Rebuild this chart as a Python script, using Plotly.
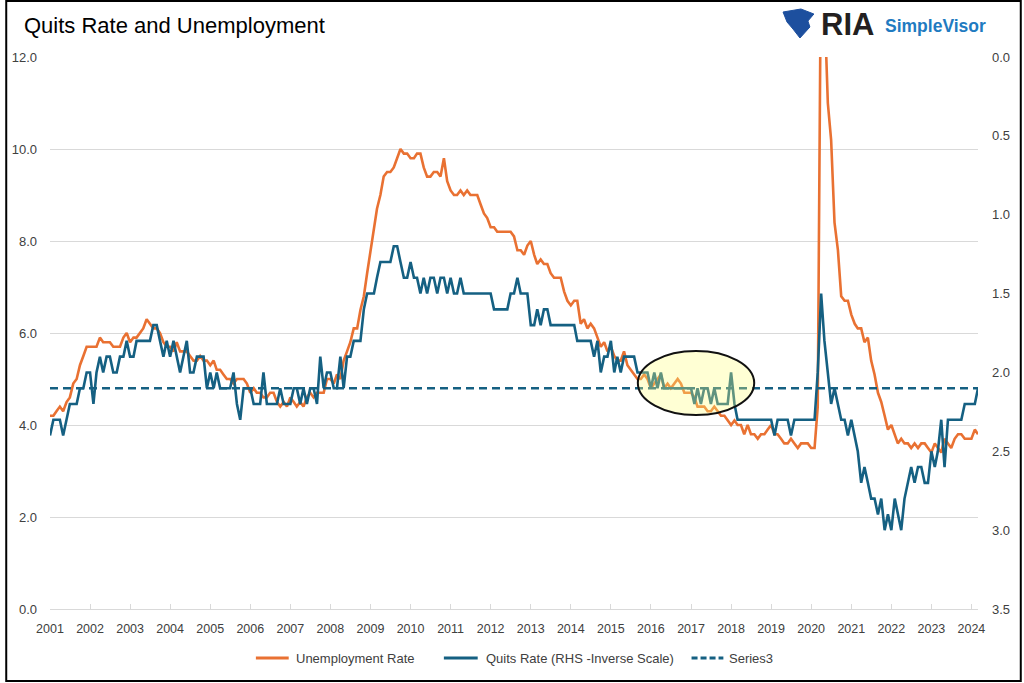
import pandas as pd
import plotly.graph_objects as go

# ---------------- data ----------------
dates = pd.date_range("2001-01-01", "2024-03-01", freq="MS")

unemployment = (
    [4.2, 4.2, 4.3, 4.4, 4.3, 4.5, 4.6, 4.9, 5.0, 5.3, 5.5, 5.7] +   # 2001
    [5.7, 5.7, 5.7, 5.9, 5.8, 5.8, 5.8, 5.7, 5.7, 5.7, 5.9, 6.0] +   # 2002
    [5.8, 5.9, 5.9, 6.0, 6.1, 6.3, 6.2, 6.1, 6.1, 6.0, 5.8, 5.7] +   # 2003
    [5.7, 5.6, 5.8, 5.6, 5.6, 5.6, 5.5, 5.4, 5.4, 5.5, 5.4, 5.4] +   # 2004
    [5.3, 5.4, 5.2, 5.2, 5.1, 5.0, 5.0, 4.9, 5.0, 5.0, 5.0, 4.9] +   # 2005
    [4.7, 4.8, 4.7, 4.7, 4.6, 4.6, 4.7, 4.7, 4.5, 4.4, 4.5, 4.4] +   # 2006
    [4.6, 4.5, 4.4, 4.5, 4.4, 4.6, 4.7, 4.6, 4.7, 4.7, 4.7, 5.0] +   # 2007
    [5.0, 4.9, 5.1, 5.0, 5.4, 5.6, 5.8, 6.1, 6.1, 6.5, 6.8, 7.3] +   # 2008
    [7.8, 8.3, 8.7, 9.0, 9.4, 9.5, 9.5, 9.6, 9.8, 10.0, 9.9, 9.9] +  # 2009
    [9.8, 9.8, 9.9, 9.9, 9.6, 9.4, 9.4, 9.5, 9.5, 9.4, 9.8, 9.3] +   # 2010
    [9.1, 9.0, 9.0, 9.1, 9.0, 9.1, 9.0, 9.0, 9.0, 8.8, 8.6, 8.5] +   # 2011
    [8.3, 8.3, 8.2, 8.2, 8.2, 8.2, 8.2, 8.1, 7.8, 7.8, 7.7, 7.9] +   # 2012
    [8.0, 7.7, 7.5, 7.6, 7.5, 7.5, 7.3, 7.2, 7.2, 7.2, 6.9, 6.7] +   # 2013
    [6.6, 6.7, 6.7, 6.2, 6.3, 6.1, 6.2, 6.1, 5.9, 5.7, 5.8, 5.6] +   # 2014
    [5.7, 5.5, 5.4, 5.4, 5.6, 5.3, 5.2, 5.1, 5.0, 5.0, 5.1, 5.0] +   # 2015
    [4.8, 4.9, 5.0, 5.1, 4.8, 4.9, 4.8, 4.9, 5.0, 4.9, 4.7, 4.7] +   # 2016
    [4.7, 4.6, 4.4, 4.4, 4.4, 4.3, 4.3, 4.4, 4.3, 4.2, 4.2, 4.1] +   # 2017
    [4.0, 4.1, 4.0, 4.0, 3.8, 4.0, 3.8, 3.8, 3.7, 3.8, 3.8, 3.9] +   # 2018
    [4.0, 3.8, 3.8, 3.7, 3.6, 3.6, 3.7, 3.6, 3.5, 3.6, 3.6, 3.6] +   # 2019
    [3.5, 3.5, 4.4, 14.8, 13.2, 11.0, 10.2, 8.4, 7.8, 6.8, 6.7, 6.7] +  # 2020
    [6.4, 6.2, 6.1, 6.1, 5.8, 5.9, 5.4, 5.1, 4.7, 4.5, 4.2, 3.9] +   # 2021
    [4.0, 3.8, 3.6, 3.7, 3.6, 3.6, 3.5, 3.6, 3.5, 3.6, 3.6, 3.5] +   # 2022
    [3.4, 3.6, 3.5, 3.4, 3.7, 3.6, 3.5, 3.7, 3.8, 3.8, 3.7, 3.7] +   # 2023
    [3.7, 3.9, 3.8]                                                   # 2024
)

quits_rate = (
    [2.4, 2.3, 2.3, 2.3, 2.4, 2.3, 2.2, 2.2, 2.2, 2.1, 2.1, 2.0] +   # 2001
    [2.0, 2.2, 2.0, 1.9, 2.0, 1.9, 1.9, 2.0, 2.0, 1.9, 1.9, 1.8] +   # 2002
    [1.9, 1.9, 1.8, 1.8, 1.8, 1.8, 1.8, 1.7, 1.7, 1.8, 1.9, 1.8] +   # 2003
    [1.9, 1.8, 1.9, 2.0, 1.9, 1.8, 2.0, 2.0, 1.9, 1.9, 1.9, 2.1] +   # 2004
    [2.0, 2.1, 2.0, 2.1, 2.1, 2.1, 2.1, 2.0, 2.2, 2.3, 2.1, 2.1] +   # 2005
    [2.1, 2.2, 2.2, 2.2, 2.0, 2.2, 2.2, 2.2, 2.2, 2.1, 2.2, 2.2] +   # 2006
    [2.2, 2.1, 2.1, 2.2, 2.1, 2.2, 2.1, 2.1, 2.2, 1.9, 2.1, 2.0] +   # 2007
    [2.0, 2.1, 2.1, 1.9, 2.1, 1.9, 1.9, 1.8, 1.8, 1.8, 1.6, 1.5] +   # 2008
    [1.5, 1.5, 1.4, 1.3, 1.3, 1.3, 1.3, 1.2, 1.2, 1.3, 1.4, 1.4] +   # 2009
    [1.3, 1.4, 1.4, 1.5, 1.4, 1.5, 1.4, 1.4, 1.5, 1.4, 1.4, 1.5] +   # 2010
    [1.4, 1.5, 1.5, 1.4, 1.5, 1.5, 1.5, 1.5, 1.5, 1.5, 1.5, 1.5] +   # 2011
    [1.5, 1.6, 1.6, 1.6, 1.6, 1.6, 1.5, 1.5, 1.4, 1.5, 1.5, 1.5] +   # 2012
    [1.7, 1.7, 1.6, 1.7, 1.6, 1.6, 1.7, 1.7, 1.7, 1.7, 1.7, 1.7] +   # 2013
    [1.7, 1.7, 1.8, 1.8, 1.8, 1.8, 1.8, 1.9, 1.8, 2.0, 1.9, 1.9] +   # 2014
    [1.8, 2.0, 1.9, 2.0, 1.9, 1.9, 1.9, 1.9, 2.0, 2.0, 2.0, 2.0] +   # 2015
    [2.1, 2.0, 2.1, 2.0, 2.1, 2.1, 2.1, 2.1, 2.1, 2.1, 2.1, 2.1] +   # 2016
    [2.1, 2.2, 2.1, 2.2, 2.1, 2.1, 2.2, 2.1, 2.2, 2.2, 2.2, 2.2] +   # 2017
    [2.0, 2.2, 2.3, 2.3, 2.3, 2.3, 2.3, 2.3, 2.3, 2.3, 2.3, 2.3] +   # 2018
    [2.3, 2.4, 2.3, 2.3, 2.3, 2.3, 2.4, 2.3, 2.3, 2.3, 2.3, 2.3] +   # 2019
    [2.3, 2.3, 2.0, 1.5, 1.8, 2.0, 2.2, 2.1, 2.2, 2.3, 2.3, 2.4] +   # 2020
    [2.3, 2.4, 2.5, 2.7, 2.6, 2.7, 2.8, 2.8, 2.9, 2.8, 3.0, 2.9] +   # 2021
    [3.0, 2.8, 2.9, 3.0, 2.8, 2.7, 2.6, 2.7, 2.6, 2.6, 2.7, 2.7] +   # 2022
    [2.5, 2.6, 2.5, 2.3, 2.6, 2.3, 2.3, 2.3, 2.3, 2.3, 2.2, 2.2] +   # 2023
    [2.2, 2.2, 2.1]                                                   # 2024
)

series3 = [2.1] * len(dates)

series_names = ["Unemployment Rate", "Quits Rate (RHS -Inverse Scale)", "Series3"]

years = list(range(2001, 2025))
year_ticks = [f"{y}-01-01" for y in years]
year_labels = [str(y) for y in years]
left_ticks = [0, 2, 4, 6, 8, 10, 12]
right_ticks = [0.0, 0.5, 1.0, 1.5, 2.0, 2.5, 3.0, 3.5]

# ---------------- layout helpers ----------------
W, H = 1024, 683
PL, PR, PT, PB = 45, 978, 57, 609


def px(x):
    return (x - PL) / (PR - PL)


def py(y):
    return (PB - y) / (PB - PT)


ORANGE = "#E97132"
BLUE = "#156082"
GRID = "#D9D9D9"
TXT = "#404040"
FONT = "Liberation Sans, Arial, sans-serif"

fig = go.Figure()
fig.add_trace(go.Scatter(x=dates, y=unemployment, name=series_names[0],
                         mode="lines", line=dict(color=ORANGE, width=2.6),
                         yaxis="y", hoverinfo="skip", showlegend=False))
fig.add_trace(go.Scatter(x=dates, y=quits_rate, name=series_names[1],
                         mode="lines", line=dict(color=BLUE, width=2.6),
                         yaxis="y2", hoverinfo="skip", showlegend=False))
fig.add_trace(go.Scatter(x=dates, y=series3, name=series_names[2],
                         mode="lines", line=dict(color=BLUE, width=2.4, dash="8px,5px"),
                         yaxis="y2", hoverinfo="skip", showlegend=False))

shapes = [
    # highlight ellipse
    dict(type="circle", xref="paper", yref="paper",
         x0=px(636), x1=px(753), y0=py(415), y1=py(351),
         fillcolor="rgba(255,255,120,0.32)", line=dict(color="#111111", width=2),
         layer="above"),
    # outer frame
    dict(type="rect", xref="paper", yref="paper",
         x0=px(1), x1=px(1021), y0=py(681), y1=py(1),
         line=dict(color="#000000", width=2), fillcolor="rgba(0,0,0,0)", layer="above"),
    # simple logo emblem
    dict(type="path", xref="paper", yref="paper",
         path="M {} {} L {} {} L {} {} L {} {} L {} {} L {} {} L {} {} L {} {} Z".format(
             px(782), py(12), px(800), py(9), px(813), py(14), px(807), py(21),
             px(809), py(27), px(799), py(38), px(792), py(29), px(786), py(22)),
         fillcolor="#1D4F9E", line=dict(color="#1D4F9E", width=1), layer="above"),
]

# manual legend (line samples + labels)
LEG_Y = 658
legend_items = [
    (252, 285, 290, ORANGE, "solid", series_names[0]),
    (441, 475, 481, BLUE, "solid", series_names[1]),
    (690, 722, 726, BLUE, "dash", series_names[2]),
]
annotations = []
for x0, x1, xt, col, dash, label in legend_items:
    shapes.append(dict(type="line", xref="paper", yref="paper",
                       x0=px(x0), x1=px(x1), y0=py(LEG_Y), y1=py(LEG_Y),
                       line=dict(color=col, width=2.8, dash=("6px,3px" if dash == "dash" else "solid"))))
    annotations.append(dict(text=label, xref="paper", yref="paper", x=px(xt), y=py(LEG_Y),
                            xanchor="left", yanchor="middle", showarrow=False,
                            font=dict(family=FONT, size=13, color=TXT)))

annotations += [
    dict(text="<b>RIA</b>", xref="paper", yref="paper", x=px(847), y=py(24),
         xanchor="center", yanchor="middle", showarrow=False,
         font=dict(family=FONT, size=31, color="#231F20")),
    dict(text="<b>SimpleVisor</b>", xref="paper", yref="paper", x=px(935), y=py(26),
         xanchor="center", yanchor="middle", showarrow=False,
         font=dict(family=FONT, size=17.5, color="#1F7BC1")),
]

fig.update_layout(
    width=W, height=H,
    margin=dict(l=PL, r=W - PR, t=PT, b=H - PB, pad=0),
    paper_bgcolor="white", plot_bgcolor="white",
    title=dict(text="Quits Rate and Unemployment", x=24 / W, xanchor="left",
               y=1 - 25 / H, yanchor="middle",
               font=dict(family=FONT, size=22, color="#000000")),
    font=dict(family=FONT, size=13, color=TXT),
    showlegend=False,
    xaxis=dict(type="date", range=[dates[0], dates[-1]],
               tickmode="array", tickvals=year_ticks, ticktext=year_labels,
               showgrid=False, zeroline=False, showline=True, linecolor=GRID, linewidth=1,
               ticks="inside", ticklen=5, tickcolor=GRID,
               tickfont=dict(family=FONT, size=12.5, color=TXT), ticklabelstandoff=8),
    yaxis=dict(range=[0, 12], tickmode="array", tickvals=left_ticks, tickformat=".1f",
               showgrid=True, gridcolor=GRID, gridwidth=1, zeroline=False,
               showline=False, ticks="", tickfont=dict(family=FONT, size=13, color=TXT),
               ticklabelstandoff=12),
    yaxis2=dict(range=[3.5, 0], overlaying="y", side="right", tickmode="array",
                tickvals=right_ticks, tickformat=".1f", showgrid=False, zeroline=False,
                showline=False, ticks="", tickfont=dict(family=FONT, size=13, color=TXT),
                ticklabelstandoff=13),
    shapes=shapes,
    annotations=annotations,
)

fig.write_html("out.html",
               config={"displayModeBar": False, "staticPlot": True},
               post_script="document.body.style.margin='0';document.body.style.overflow='hidden';")
